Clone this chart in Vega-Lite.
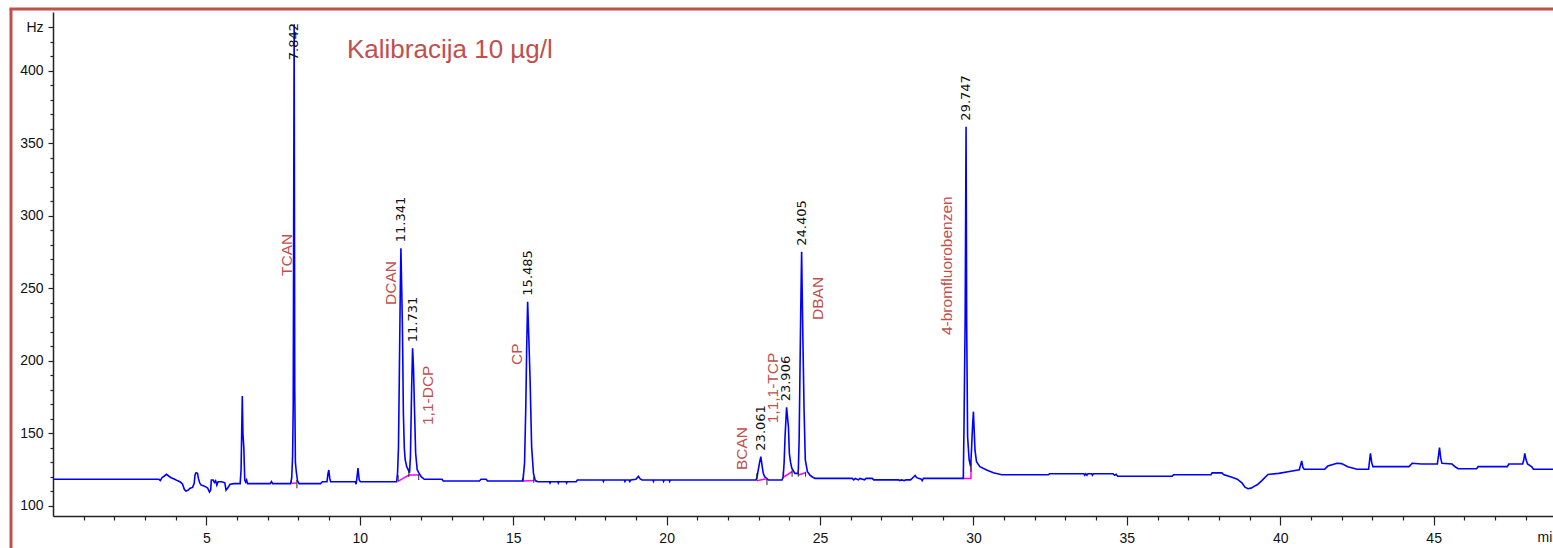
{
  "$schema": "https://vega.github.io/schema/vega-lite/v6.json",
  "width": 1500,
  "height": 504,
  "autosize": {"type": "none"},
  "padding": {"left": 53, "top": 12, "right": 0, "bottom": 32},
  "background": "white",
  "config": {"view": {"stroke": null}},
  "resolve": {"axis": {"x": "independent", "y": "independent"}},
  "title": {"text": "Kalibracija 10 µg/l", "anchor": "start", "frame": "group", "orient": "top", "offset": 0, "dx": 294, "dy": 77, "baseline": "alphabetic", "font": "Liberation Sans", "fontSize": 26, "fontWeight": "normal", "color": "#c0504d"},
  "datasets": {
    "trace": [
      {"t": 0, "v": 118.4}, {"t": 3.45, "v": 118.4}, {"t": 3.5, "v": 117.5}, {"t": 3.55, "v": 119.5}, {"t": 3.62, "v": 120.5}, {"t": 3.7, "v": 121.8}, {"t": 3.78, "v": 120.5}, {"t": 3.85, "v": 119.5}, {"t": 3.95, "v": 118.6}, {"t": 4.05, "v": 117.5}, {"t": 4.15, "v": 116.5}, {"t": 4.22, "v": 115.2}, {"t": 4.28, "v": 111.5}, {"t": 4.33, "v": 110.3}, {"t": 4.4, "v": 110.8}, {"t": 4.47, "v": 112.2}, {"t": 4.55, "v": 112.8}, {"t": 4.6, "v": 115.5}, {"t": 4.63, "v": 121.5}, {"t": 4.66, "v": 122.9}, {"t": 4.71, "v": 122.5}, {"t": 4.74, "v": 119}, {"t": 4.78, "v": 116}, {"t": 4.82, "v": 114.5}, {"t": 4.9, "v": 114}, {"t": 4.98, "v": 113.2}, {"t": 5.04, "v": 112.4}, {"t": 5.1, "v": 109.6}, {"t": 5.14, "v": 111}, {"t": 5.16, "v": 117.9}, {"t": 5.22, "v": 117.9}, {"t": 5.26, "v": 116.2}, {"t": 5.3, "v": 117.4}, {"t": 5.34, "v": 114.4}, {"t": 5.38, "v": 116.7}, {"t": 5.5, "v": 116.7}, {"t": 5.6, "v": 116}, {"t": 5.64, "v": 110.9}, {"t": 5.7, "v": 112.5}, {"t": 5.77, "v": 115}, {"t": 5.9, "v": 115.4}, {"t": 6.1, "v": 115.4}, {"t": 6.13, "v": 125}, {"t": 6.15, "v": 150}, {"t": 6.17, "v": 175.8}, {"t": 6.19, "v": 150}, {"t": 6.22, "v": 140}, {"t": 6.25, "v": 117.9}, {"t": 6.28, "v": 116.5}, {"t": 6.31, "v": 117.9}, {"t": 6.34, "v": 115.4}, {"t": 7.08, "v": 115.4}, {"t": 7.12, "v": 116.8}, {"t": 7.16, "v": 115.4}, {"t": 7.74, "v": 115.4}, {"t": 7.78, "v": 119}, {"t": 7.81, "v": 134.5}, {"t": 7.83, "v": 170}, {"t": 7.86, "v": 432}, {"t": 7.88, "v": 180}, {"t": 7.9, "v": 130}, {"t": 7.93, "v": 123.6}, {"t": 7.97, "v": 117.2}, {"t": 8.02, "v": 115.4}, {"t": 8.72, "v": 115.4}, {"t": 8.78, "v": 116.7}, {"t": 8.93, "v": 116.7}, {"t": 8.96, "v": 122}, {"t": 8.99, "v": 124.8}, {"t": 9.02, "v": 119}, {"t": 9.05, "v": 116.7}, {"t": 9.85, "v": 116.7}, {"t": 9.88, "v": 115}, {"t": 9.91, "v": 120}, {"t": 9.94, "v": 126.2}, {"t": 9.98, "v": 118}, {"t": 10.02, "v": 116.7}, {"t": 11.2, "v": 116.7}, {"t": 11.23, "v": 122.7}, {"t": 11.26, "v": 140}, {"t": 11.29, "v": 193.7}, {"t": 11.32, "v": 250}, {"t": 11.34, "v": 277.6}, {"t": 11.37, "v": 245}, {"t": 11.39, "v": 221.3}, {"t": 11.42, "v": 164}, {"t": 11.45, "v": 140}, {"t": 11.48, "v": 131.7}, {"t": 11.53, "v": 127}, {"t": 11.58, "v": 124.8}, {"t": 11.62, "v": 123}, {"t": 11.65, "v": 134}, {"t": 11.69, "v": 182.2}, {"t": 11.72, "v": 208.7}, {"t": 11.75, "v": 195}, {"t": 11.78, "v": 168.4}, {"t": 11.82, "v": 136.3}, {"t": 11.87, "v": 125}, {"t": 11.92, "v": 123}, {"t": 12.0, "v": 120.2}, {"t": 12.1, "v": 118.4}, {"t": 12.68, "v": 118.4}, {"t": 12.72, "v": 117.2}, {"t": 13.9, "v": 117.2}, {"t": 13.95, "v": 118.4}, {"t": 14.12, "v": 118.4}, {"t": 14.16, "v": 117.2}, {"t": 15.3, "v": 117.2}, {"t": 15.33, "v": 120}, {"t": 15.37, "v": 130}, {"t": 15.41, "v": 168.4}, {"t": 15.44, "v": 210}, {"t": 15.47, "v": 240.8}, {"t": 15.51, "v": 215}, {"t": 15.55, "v": 186.8}, {"t": 15.6, "v": 140.9}, {"t": 15.66, "v": 122.5}, {"t": 15.72, "v": 117.5}, {"t": 15.8, "v": 116.7}, {"t": 16.18, "v": 116.7}, {"t": 16.2, "v": 115.8}, {"t": 16.22, "v": 116.7}, {"t": 16.45, "v": 116.7}, {"t": 16.47, "v": 115.8}, {"t": 16.49, "v": 116.7}, {"t": 16.72, "v": 116.7}, {"t": 16.74, "v": 115.8}, {"t": 16.76, "v": 116.7}, {"t": 17.05, "v": 116.7}, {"t": 17.09, "v": 117.9}, {"t": 17.92, "v": 117.9}, {"t": 17.94, "v": 116.9}, {"t": 17.96, "v": 117.9}, {"t": 18.62, "v": 117.9}, {"t": 18.64, "v": 116.9}, {"t": 18.66, "v": 117.9}, {"t": 18.78, "v": 117.9}, {"t": 18.8, "v": 116.9}, {"t": 18.83, "v": 117.9}, {"t": 19.0, "v": 118.4}, {"t": 19.08, "v": 120.4}, {"t": 19.14, "v": 118.6}, {"t": 19.2, "v": 117.9}, {"t": 19.55, "v": 117.9}, {"t": 19.57, "v": 116.9}, {"t": 19.59, "v": 117.9}, {"t": 19.88, "v": 117.9}, {"t": 19.9, "v": 116.9}, {"t": 19.92, "v": 117.9}, {"t": 20.08, "v": 117.9}, {"t": 20.1, "v": 116.9}, {"t": 20.12, "v": 117.9}, {"t": 22.9, "v": 117.9}, {"t": 22.94, "v": 119}, {"t": 22.98, "v": 124}, {"t": 23.03, "v": 130}, {"t": 23.07, "v": 134}, {"t": 23.11, "v": 128}, {"t": 23.15, "v": 122.5}, {"t": 23.2, "v": 120}, {"t": 23.26, "v": 119}, {"t": 23.32, "v": 117.9}, {"t": 23.76, "v": 117.9}, {"t": 23.8, "v": 120.2}, {"t": 23.83, "v": 130}, {"t": 23.86, "v": 147.7}, {"t": 23.91, "v": 168}, {"t": 23.97, "v": 154.6}, {"t": 24.0, "v": 136.3}, {"t": 24.04, "v": 130}, {"t": 24.08, "v": 126}, {"t": 24.18, "v": 122.5}, {"t": 24.29, "v": 122.5}, {"t": 24.32, "v": 146.6}, {"t": 24.37, "v": 232.8}, {"t": 24.4, "v": 275.2}, {"t": 24.44, "v": 216.7}, {"t": 24.48, "v": 166.2}, {"t": 24.52, "v": 131.7}, {"t": 24.59, "v": 123.6}, {"t": 24.67, "v": 121.3}, {"t": 24.75, "v": 120}, {"t": 24.84, "v": 119}, {"t": 26.05, "v": 119}, {"t": 26.1, "v": 118}, {"t": 26.15, "v": 119}, {"t": 26.25, "v": 118}, {"t": 26.3, "v": 119}, {"t": 26.45, "v": 118}, {"t": 26.5, "v": 119}, {"t": 26.7, "v": 119}, {"t": 26.75, "v": 118}, {"t": 27.55, "v": 118}, {"t": 27.6, "v": 117.5}, {"t": 27.65, "v": 118}, {"t": 27.75, "v": 117.5}, {"t": 27.8, "v": 118}, {"t": 27.95, "v": 118}, {"t": 28.05, "v": 120}, {"t": 28.1, "v": 121}, {"t": 28.15, "v": 119.5}, {"t": 28.3, "v": 118.5}, {"t": 28.33, "v": 117.5}, {"t": 28.37, "v": 119}, {"t": 29.65, "v": 119}, {"t": 29.67, "v": 120.2}, {"t": 29.69, "v": 150}, {"t": 29.73, "v": 228.2}, {"t": 29.76, "v": 361.4}, {"t": 29.78, "v": 225.9}, {"t": 29.81, "v": 147.8}, {"t": 29.86, "v": 131.7}, {"t": 29.91, "v": 127.1}, {"t": 29.94, "v": 140}, {"t": 29.97, "v": 154.6}, {"t": 30.0, "v": 165}, {"t": 30.05, "v": 138.6}, {"t": 30.1, "v": 130.5}, {"t": 30.21, "v": 127.1}, {"t": 30.43, "v": 124.8}, {"t": 30.65, "v": 122.9}, {"t": 30.92, "v": 121.5}, {"t": 32.44, "v": 121.5}, {"t": 32.48, "v": 122.2}, {"t": 33.6, "v": 122.2}, {"t": 33.63, "v": 121.2}, {"t": 33.66, "v": 122.2}, {"t": 33.7, "v": 121.2}, {"t": 33.73, "v": 122.2}, {"t": 33.85, "v": 122.2}, {"t": 33.88, "v": 121.2}, {"t": 33.91, "v": 122.2}, {"t": 34.55, "v": 122.2}, {"t": 34.6, "v": 121.2}, {"t": 34.65, "v": 121.8}, {"t": 34.7, "v": 120.5}, {"t": 36.48, "v": 120.5}, {"t": 36.52, "v": 121.5}, {"t": 37.74, "v": 121.5}, {"t": 37.78, "v": 122.8}, {"t": 38.1, "v": 122.8}, {"t": 38.15, "v": 121.7}, {"t": 38.45, "v": 119.6}, {"t": 38.6, "v": 118.5}, {"t": 38.75, "v": 116}, {"t": 38.79, "v": 114.8}, {"t": 38.85, "v": 113}, {"t": 38.95, "v": 111.9}, {"t": 39.05, "v": 112.3}, {"t": 39.15, "v": 113.5}, {"t": 39.26, "v": 114.8}, {"t": 39.4, "v": 117.5}, {"t": 39.6, "v": 121.7}, {"t": 39.95, "v": 122.5}, {"t": 40.3, "v": 123.8}, {"t": 40.62, "v": 125}, {"t": 40.66, "v": 128}, {"t": 40.7, "v": 131}, {"t": 40.74, "v": 126.5}, {"t": 40.78, "v": 125.3}, {"t": 41.45, "v": 125.3}, {"t": 41.55, "v": 127.5}, {"t": 41.85, "v": 129.4}, {"t": 42.0, "v": 129.2}, {"t": 42.2, "v": 127.1}, {"t": 42.5, "v": 125.3}, {"t": 42.88, "v": 125.3}, {"t": 42.91, "v": 131}, {"t": 42.94, "v": 136.2}, {"t": 42.98, "v": 130}, {"t": 43.02, "v": 127.1}, {"t": 44.2, "v": 127.1}, {"t": 44.3, "v": 129.4}, {"t": 44.6, "v": 128.9}, {"t": 45.12, "v": 128.9}, {"t": 45.16, "v": 135}, {"t": 45.19, "v": 140.3}, {"t": 45.23, "v": 133}, {"t": 45.27, "v": 129.4}, {"t": 45.6, "v": 128.9}, {"t": 45.7, "v": 127}, {"t": 45.8, "v": 125.7}, {"t": 46.4, "v": 125.7}, {"t": 46.45, "v": 127.1}, {"t": 47.4, "v": 127.1}, {"t": 47.45, "v": 128.9}, {"t": 47.9, "v": 128.9}, {"t": 47.94, "v": 132}, {"t": 47.97, "v": 136.2}, {"t": 48.01, "v": 132}, {"t": 48.06, "v": 128.9}, {"t": 48.2, "v": 127}, {"t": 48.25, "v": 125.3}, {"t": 48.89, "v": 125.3}
    ],
    "base": [
      {"seg": "a", "o": 1, "t": 7.77, "v": 115.5}, {"seg": "a", "o": 2, "t": 7.93, "v": 115.8},
      {"seg": "b", "o": 1, "t": 11.24, "v": 117}, {"seg": "b", "o": 2, "t": 11.6, "v": 121.3}, {"seg": "b", "o": 3, "t": 11.92, "v": 121.3},
      {"seg": "d", "o": 1, "t": 15.34, "v": 117.2}, {"seg": "d", "o": 2, "t": 15.68, "v": 117.5},
      {"seg": "e", "o": 1, "t": 22.94, "v": 117.4}, {"seg": "e", "o": 2, "t": 23.26, "v": 118.8},
      {"seg": "f", "o": 1, "t": 23.8, "v": 119.8}, {"seg": "f", "o": 2, "t": 24.09, "v": 123.6},
      {"seg": "g", "o": 1, "t": 24.29, "v": 121.3}, {"seg": "g", "o": 2, "t": 24.53, "v": 122.9},
      {"seg": "h", "o": 1, "t": 29.67, "v": 118.9}, {"seg": "h", "o": 2, "t": 29.92, "v": 118.9}, {"seg": "h", "o": 3, "t": 29.921, "v": 127.1}
    ],
    "marks": [
      {"t": 7.77, "v": 115.8, "v2": 120}, {"t": 7.95, "v": 112.2, "v2": 117.9},
      {"t": 11.25, "v": 117.2, "v2": 121.3}, {"t": 11.6, "v": 120, "v2": 126}, {"t": 11.92, "v": 117.9, "v2": 121.8},
      {"t": 15.33, "v": 116.7, "v2": 122.5}, {"t": 15.67, "v": 116, "v2": 120.2},
      {"t": 22.94, "v": 117.4, "v2": 122.5}, {"t": 23.27, "v": 114.4, "v2": 118.4},
      {"t": 23.8, "v": 119, "v2": 123.6}, {"t": 24.09, "v": 120.2, "v2": 124.8}, {"t": 24.29, "v": 120.2, "v2": 124.8}, {"t": 24.53, "v": 120.2, "v2": 123.6},
      {"t": 29.68, "v": 118.4, "v2": 123.6}, {"t": 29.92, "v": 123.6, "v2": 129.6}
    ],
    "rt": [
      {"t": 7.842, "v": 403, "label": "7.842"},
      {"t": 11.341, "v": 277.6, "label": "11.341"},
      {"t": 11.731, "v": 208.7, "label": "11.731"},
      {"t": 15.485, "v": 240.8, "label": "15.485"},
      {"t": 23.061, "v": 134, "label": "23.061"},
      {"t": 23.906, "v": 168, "label": "23.906"},
      {"t": 24.405, "v": 275.2, "label": "24.405"},
      {"t": 29.747, "v": 361.4, "label": "29.747"}
    ],
    "names": [
      {"t": 7.63, "v": 258.5, "name": "TCAN"},
      {"t": 11.02, "v": 238.5, "name": "DCAN"},
      {"t": 12.21, "v": 155.8, "name": "1,1-DCP"},
      {"t": 15.12, "v": 197.2, "name": "CP"},
      {"t": 22.47, "v": 124.8, "name": "BCAN"},
      {"t": 23.47, "v": 157, "name": "1,1,1-TCP"},
      {"t": 24.93, "v": 228.2, "name": "DBAN"},
      {"t": 29.14, "v": 217.8, "name": "4-bromfluorobenzen"}
    ],
    "frame": [{"part": "border"}]
  },
  "layer": [
    {
      "data": {"name": "trace"},
      "mark": {"type": "line", "color": "#0000ff", "strokeWidth": 1.6, "interpolate": "linear"},
      "encoding": {
        "x": {
          "field": "t", "type": "quantitative",
          "scale": {"domain": [0, 48.89], "nice": false, "zero": false},
          "axis": {
            "orient": "bottom",
            "values": [1,2,3,4,5,6,7,8,9,10,11,12,13,14,15,16,17,18,19,20,21,22,23,24,25,26,27,28,29,30,31,32,33,34,35,36,37,38,39,40,41,42,43,44,45,46,47,48],
            "labelExpr": "datum.value % 5 === 0 ? datum.label : ''",
            "tickSize": {"condition": {"test": "datum.value % 5 === 0", "value": 9}, "value": 4},
            "grid": false, "labelOverlap": false, "labelBound": false, "labelFlush": false,
            "domainColor": "#222", "domainWidth": 1.5, "tickColor": "#222", "tickWidth": 1.2,
            "labelFont": "Liberation Sans Narrow, Arial Narrow, Liberation Sans", "labelFontSize": 14, "labelColor": "#111", "labelPadding": 6,
            "title": "min", "titleX": 1484, "titleY": 21, "titleAlign": "left", "titleBaseline": "middle", "titleAnchor": null,
            "titleFont": "Liberation Sans Narrow, Arial Narrow, Liberation Sans", "titleFontSize": 14, "titleFontWeight": "normal", "titleColor": "#111"
          }
        },
        "y": {
          "field": "v", "type": "quantitative",
          "scale": {"domain": [93.1, 440.4], "nice": false, "zero": false},
          "axis": {
            "orient": "left",
            "values": [100,110,120,130,140,150,160,170,180,190,200,210,220,230,240,250,260,270,280,290,300,310,320,330,340,350,360,370,380,390,400,410,420,430],
            "labelExpr": "datum.value === 430 ? 'Hz' : (datum.value % 50 === 0 ? datum.label : '')",
            "tickSize": {"condition": {"test": "datum.value % 50 === 0 || datum.value === 430", "value": 5}, "value": 3},
            "grid": false, "labelOverlap": false, "labelBound": false, "labelFlush": false,
            "domainColor": "#222", "domainWidth": 1.5, "tickColor": "#222", "tickWidth": 1.2,
            "labelFont": "Liberation Sans Narrow, Arial Narrow, Liberation Sans", "labelFontSize": 14, "labelColor": "#111", "labelPadding": 5,
            "title": null
          }
        }
      }
    },
    {
      "data": {"name": "base"},
      "mark": {"type": "line", "color": "#ff00ff", "strokeWidth": 1.5},
      "encoding": {"x": {"field": "t", "type": "quantitative", "axis": null}, "y": {"field": "v", "type": "quantitative", "axis": null}, "detail": {"field": "seg"}, "order": {"field": "o"}}
    },
    {
      "data": {"name": "marks"},
      "mark": {"type": "rule", "color": "#222", "strokeWidth": 1},
      "encoding": {"x": {"field": "t", "type": "quantitative", "axis": null}, "y": {"field": "v", "type": "quantitative", "axis": null}, "y2": {"field": "v2"}}
    },
    {
      "data": {"name": "rt"},
      "mark": {"type": "text", "angle": 270, "align": "left", "baseline": "middle", "dx": 6, "font": "DejaVu Sans", "fontSize": 13, "color": "#111", "clip": false},
      "encoding": {"x": {"field": "t", "type": "quantitative", "axis": null}, "y": {"field": "v", "type": "quantitative", "axis": null}, "text": {"field": "label"}}
    },
    {
      "data": {"name": "names"},
      "mark": {"type": "text", "angle": 270, "align": "left", "baseline": "middle", "font": "Liberation Sans", "fontSize": 15.5, "color": "#c0504d", "clip": false},
      "encoding": {"x": {"field": "t", "type": "quantitative", "axis": null}, "y": {"field": "v", "type": "quantitative", "axis": null}, "text": {"field": "name"}}
    },
    {
      "data": {"name": "frame"},
      "mark": {"type": "rule", "color": "#c0504d", "strokeWidth": 3, "clip": false},
      "encoding": {
        "x": {"datum": -1.369, "type": "quantitative", "axis": null},
        "y": {"datum": 442.5, "type": "quantitative", "axis": null},
        "y2": {"datum": 60}
      }
    },
    {
      "data": {"name": "frame"},
      "mark": {"type": "rule", "color": "#c0504d", "strokeWidth": 3, "clip": false},
      "encoding": {
        "x": {"datum": -1.42, "type": "quantitative", "axis": null},
        "x2": {"datum": 48.89},
        "y": {"datum": 442.5, "type": "quantitative", "axis": null}
      }
    }
  ]
}
